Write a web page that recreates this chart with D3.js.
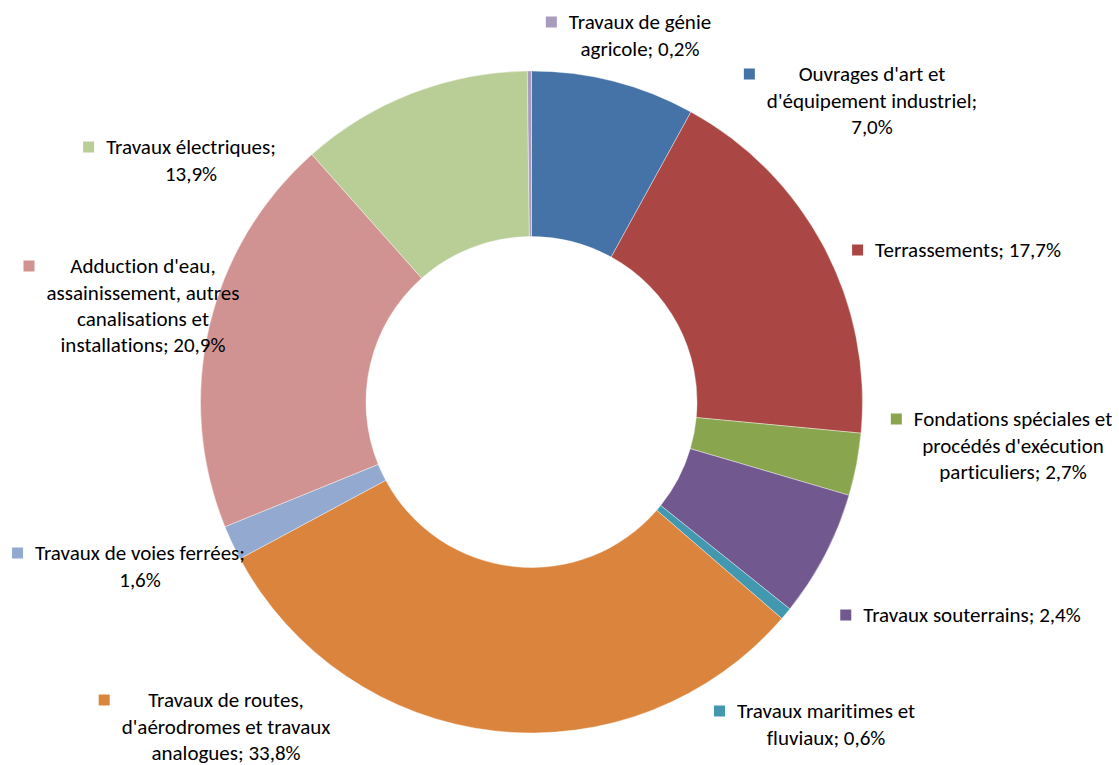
<!DOCTYPE html>
<html>
<head>
<meta charset="utf-8">
<script src="https://cdn.jsdelivr.net/npm/d3@7"></script>
<style>
	body { margin: 0; background: #fff; }
	svg { display: block; }
	text { font-family: Carlito, Lato, "Open Sans", sans-serif; font-size: 21px; fill: #000; font-variant-ligatures: none; }
</style>
</head>
<body>
<div id="chart"></div>
<script>
// Categories, clockwise from 12 o'clock
var categories = [
	"Ouvrages d'art et d'équipement industriel",
	"Terrassements",
	"Fondations spéciales et procédés d'exécution particuliers",
	"Travaux souterrains",
	"Travaux maritimes et fluviaux",
	"Travaux de routes, d'aérodromes et travaux analogues",
	"Travaux de voies ferrées",
	"Adduction d'eau, assainissement, autres canalisations et installations",
	"Travaux électriques",
	"Travaux de génie agricole"
];

var values = [8.0, 18.5, 3.05, 6.2, 0.6, 30.8, 1.7, 19.6, 11.35, 0.2];

// Data label lines as printed
var labelLines = [
	["Ouvrages d'art et", "d'équipement industriel;", "7,0%"],
	["Terrassements; 17,7%"],
	["Fondations spéciales et", "procédés d'exécution", "particuliers; 2,7%"],
	["Travaux souterrains; 2,4%"],
	["Travaux maritimes et", "fluviaux; 0,6%"],
	["Travaux de routes,", "d'aérodromes et travaux", "analogues; 33,8%"],
	["Travaux de voies ferrées;", "1,6%"],
	["Adduction d'eau,", "assainissement, autres", "canalisations et", "installations; 20,9%"],
	["Travaux électriques;", "13,9%"],
	["Travaux de génie", "agricole; 0,2%"]
];

var colors = ["#4572A7", "#AA4643", "#89A54E", "#71588F", "#4198AF",
	"#DB843D", "#93A9CF", "#D19392", "#B9CD96", "#A99BBD"];

// Layout: label block centre x and first line middle y
var labelAnchor = [
	[872, 74], [968, 250], [1013, 419], [972, 615], [826, 711],
	[226, 700], [140, 553], [143, 266], [191, 147], [640, 22]
];

var width = 1119, height = 765,
		cx = 531.5, cy = 402,
		outerR = 331, innerR = 165.5,
		lineH = 26.3, keySize = 11, keyGap = 12;

var svg = d3.select("#chart").append("svg")
		.attr("width", width)
		.attr("height", height);

var pie = d3.pie().sort(null).value(function(d) { return d; });
var arc = d3.arc().innerRadius(innerR).outerRadius(outerR);

var color = d3.scaleOrdinal().domain(categories).range(colors);

var arcs = pie(values);

svg.append("g")
		.attr("transform", "translate(" + cx + "," + cy + ")")
	.selectAll("path")
	.data(arcs)
	.enter().append("path")
		.attr("d", arc)
		.attr("fill", function(d, i) { return color(categories[i]); })
		.attr("stroke", "#fff")
		.attr("stroke-width", 0.4);

// Data labels with legend key
var labels = svg.append("g").attr("class", "labels")
	.selectAll("g")
	.data(categories)
	.enter().append("g")
		.attr("transform", function(d, i) { return "translate(" + labelAnchor[i][0] + "," + labelAnchor[i][1] + ")"; });

labels.each(function(d, i) {
	var g = d3.select(this);
	var t = g.append("text").attr("text-anchor", "middle");
	labelLines[i].forEach(function(line, j) {
		t.append("tspan")
				.attr("x", 0)
				.attr("y", j * lineH)
				.attr("dy", "0.35em")
				.text(line);
	});
	var maxW = 0;
	t.selectAll("tspan").each(function() {
		maxW = Math.max(maxW, this.getComputedTextLength());
	});
	g.insert("rect", "text")
			.attr("x", -maxW / 2 - keyGap - keySize)
			.attr("y", -keySize / 2)
			.attr("width", keySize)
			.attr("height", keySize)
			.attr("fill", color(d));
});
</script>
</body>
</html>
